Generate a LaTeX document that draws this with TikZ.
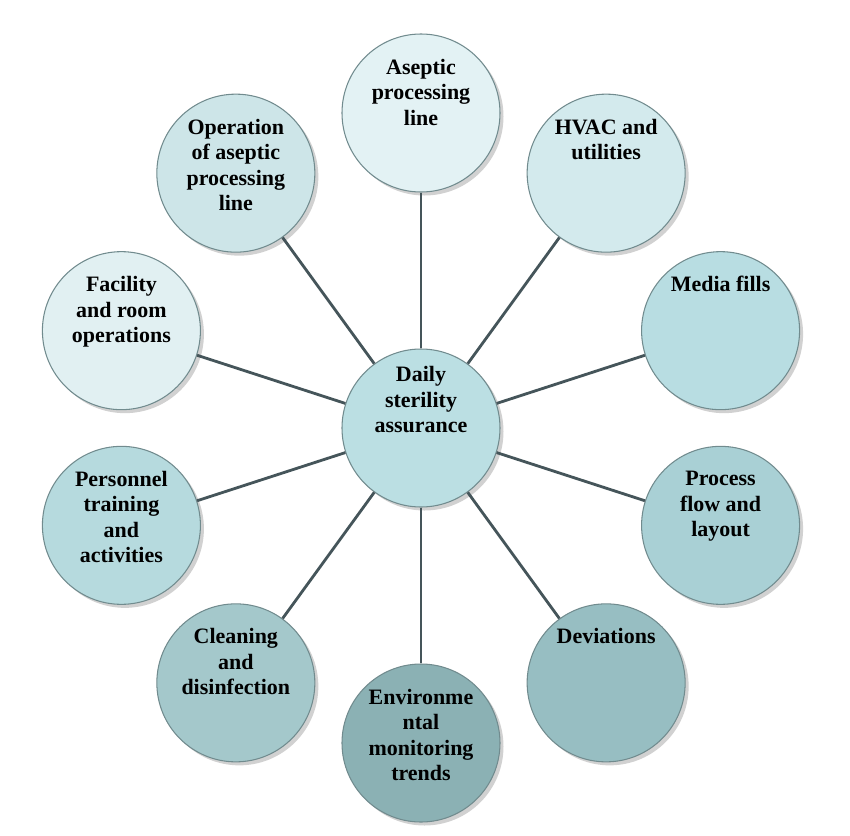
\documentclass[tikz,border=0pt]{standalone}
\usepackage{fontspec}
\setmainfont{Liberation Serif}
\usepackage{tikz}
\usetikzlibrary{shadows}

\definecolor{hubfill}{HTML}{BBDFE3}
\definecolor{asepticfill}{HTML}{E3F2F4}
\definecolor{hvacfill}{HTML}{D3EAED}
\definecolor{mediafill}{HTML}{B8DDE2}
\definecolor{processfill}{HTML}{A9D0D5}
\definecolor{deviationfill}{HTML}{97BEC2}
\definecolor{envfill}{HTML}{8BB1B4}
\definecolor{cleaningfill}{HTML}{A4C8CB}
\definecolor{personnelfill}{HTML}{B6DADE}
\definecolor{facilityfill}{HTML}{E1F0F2}
\definecolor{operationfill}{HTML}{CDE5E8}
\definecolor{edgegray}{HTML}{718B8E}
\definecolor{spokegray}{HTML}{45555A}

\begin{document}
\begin{tikzpicture}[
		bubble/.style={circle, draw=edgegray, line width=0.6pt, minimum size=3.16cm, drop shadow={shadow xshift=0.07cm, shadow yshift=-0.07cm, opacity=0.3, fill=black!60}},
		txt/.style={anchor=north, yshift=-0.5cm, inner sep=0pt, align=center, font=\fontsize{12.5}{14.5}\selectfont\bfseries},
		spoke/.style={draw=spokegray, line width=1.6pt}]
		\useasboundingbox (-8.42,-8.14) rectangle (8.58,8.56);
		
		\node[bubble, fill=hubfill, label={[txt, yshift=0.15cm]north:Daily\\sterility\\assurance}] (hub) at (0,0) {};
		
		\node[bubble, fill=asepticfill, label={[txt]north:Aseptic\\processing\\line}] (aseptic) at (90:6.3) {};
		\node[bubble, fill=hvacfill, label={[txt]north:HVAC and\\utilities}] (hvac) at (54:6.3) {};
		\node[bubble, fill=mediafill, label={[txt]north:Media fills}] (media) at (18:6.3) {};
		\node[bubble, fill=processfill, label={[txt]north:Process\\flow and\\layout}] (process) at (-18:6.3) {};
		\node[bubble, fill=deviationfill, label={[txt]north:Deviations}] (deviations) at (-54:6.3) {};
		\node[bubble, fill=envfill, label={[txt]north:Environme\\ntal\\monitoring\\trends}] (envmon) at (-90:6.3) {};
		\node[bubble, fill=cleaningfill, label={[txt]north:Cleaning\\and\\disinfection}] (cleaning) at (-126:6.3) {};
		\node[bubble, fill=personnelfill, label={[txt]north:Personnel\\training\\and\\activities}] (personnel) at (-162:6.3) {};
		\node[bubble, fill=facilityfill, label={[txt]north:Facility\\and room\\operations}] (facility) at (162:6.3) {};
		\node[bubble, fill=operationfill, label={[txt]north:Operation\\of aseptic\\processing\\line}] (operation) at (126:6.3) {};
		
		% Spokes
		\draw[spoke] (hub) -- (aseptic);
		\draw[spoke] (hub) -- (hvac);
		\draw[spoke] (hub) -- (media);
		\draw[spoke] (hub) -- (process);
		\draw[spoke] (hub) -- (deviations);
		\draw[spoke] (hub) -- (envmon);
		\draw[spoke] (hub) -- (cleaning);
		\draw[spoke] (hub) -- (personnel);
		\draw[spoke] (hub) -- (facility);
		\draw[spoke] (hub) -- (operation);
	\end{tikzpicture}
\end{document}
